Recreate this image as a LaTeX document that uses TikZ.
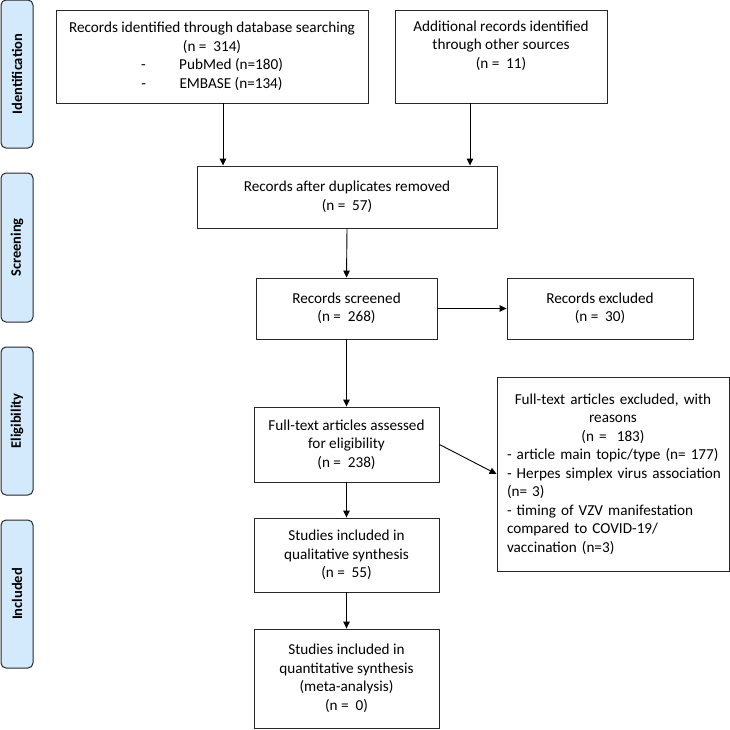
\documentclass[tikz,border=0pt]{standalone}
\usepackage{fontspec}
\setmainfont{Carlito}
\usetikzlibrary{arrows.meta}
\definecolor{sidefill}{RGB}{210,234,252}
\definecolor{boxline}{RGB}{40,40,40}
\tikzset{
  x=1pt, y=-1pt,
  flowbox/.style={draw=boxline, line width=0.9pt, fill=white, inner sep=0pt, align=center,
    font=\fontsize{15.2}{18.5}\selectfont},
  sidebox/.style={draw=boxline, line width=1pt, fill=sidefill, rounded corners=5pt, inner sep=0pt},
  sidetext/.style={rotate=90, font=\fontsize{14.5}{17}\selectfont\bfseries},
  arr/.style={-{Triangle[length=7pt,width=6.5pt]}, line width=0.9pt, black}
}
\begin{document}
\begin{tikzpicture}
\useasboundingbox (0,0) rectangle (730,729);
% side labels
\node[sidebox, minimum width=32pt, minimum height=148pt] (sid) at (17,74) {};
\node[sidetext] (sidt) at (sid.center) {Identification};
\node[sidebox, minimum width=32pt, minimum height=149pt] (sscr) at (17,247.5) {};
\node[sidetext] (sscrt) at (sscr.center) {Screening};
\node[sidebox, minimum width=32pt, minimum height=148pt] (sel) at (17,421) {};
\node[sidetext] (selt) at (sel.center) {Eligibility};
\node[sidebox, minimum width=32pt, minimum height=148pt] (sinc) at (17,594) {};
\node[sidetext] (sinct) at (sinc.center) {Included};
% boxes
\node[flowbox, minimum width=312pt, minimum height=93pt] (db) at (212,56.5)
  {Records identified through database searching\\(n = \ 314)\\-\hspace{2.2em}PubMed (n=180)\\-\hspace{2.2em}EMBASE (n=134)};
\node[flowbox, minimum width=212pt, minimum height=93pt] (other) at (501,56.5)
  {Additional records identified\\through other sources\\(n = \ 11)\\\strut};
\node[flowbox, minimum width=300pt, minimum height=62pt] (dup) at (347,197)
  {Records after duplicates removed\\(n = \ 57)};
\node[flowbox, minimum width=181pt, minimum height=61pt] (scr) at (346.5,308.5)
  {Records screened\\(n = \ 268)};
\node[flowbox, minimum width=186pt, minimum height=61pt] (exc) at (600,308.5)
  {Records excluded\\(n = \ 30)};
\node[flowbox, minimum width=185pt, minimum height=75pt] (full) at (346.5,444.5)
  {Full-text articles assessed\\for eligibility\\(n = \ 238)};
\node[flowbox, minimum width=232pt, minimum height=194pt, text width=212pt, align=left] (fexc) at (613,474)
  {{\centering Full-text articles excluded, with\\reasons\\(n = \ 183)\par}
   \mbox{- article main topic/type (n= 177)}\\
   \mbox{- Herpes simplex virus association}\\
   \mbox{(n= 3)}\\
   \mbox{- timing of VZV manifestation}\\
   \mbox{compared to COVID-19/}\\
   \mbox{vaccination (n=3)}};
\node[flowbox, minimum width=185pt, minimum height=74pt] (qual) at (346.5,555)
  {Studies included in\\qualitative synthesis\\(n = \ 55)};
\node[flowbox, minimum width=185pt, minimum height=99pt] (quan) at (346.5,678.5)
  {Studies included in\\quantitative synthesis\\(meta-analysis)\\(n = \ 0)};
% connectors
\draw[arr] (db.south -| 223,0) -- (dup.north -| 223,0);
\draw[arr] (other.south -| 470,0) -- (dup.north -| 470,0);
\draw[arr] (dup.south) -- (scr.north);
\draw[arr] (scr.east) -- (exc.west);
\draw[arr] (scr.south) -- (full.north);
\draw[arr] (full.east) -- (fexc.west |- 0,474);
\draw[arr] (full.south) -- (qual.north);
\draw[arr] (qual.south) -- (quan.north);
\end{tikzpicture}
\end{document}
